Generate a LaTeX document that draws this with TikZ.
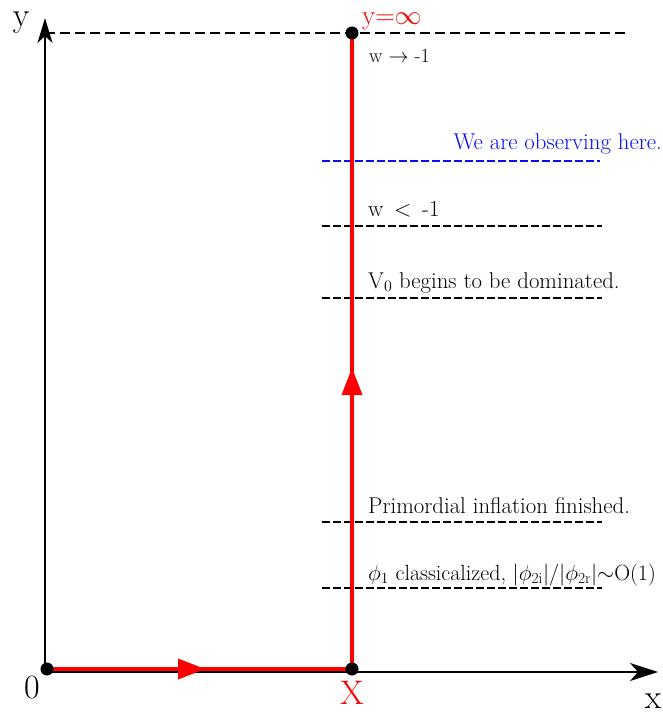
\RequirePackage{fix-cm}
\documentclass[tikz,border=0pt]{standalone}
\usepackage{fontspec}
\usepackage{tikz}
\usetikzlibrary{arrows.meta, decorations.markings}
\definecolor{flowRed}{RGB}{255,0,0}
\definecolor{obsBlue}{RGB}{10,10,245}

\begin{document}
\begin{tikzpicture}[
    x=1pt, y=-1pt,
    axis/.style={line width=1.8pt, draw=black},
    flow/.style={line width=4.5pt, color=flowRed, line join=miter},
    epoch/.style={line width=1.8pt, dash pattern=on 8pt off 3pt},
    topline/.style={line width=2.8pt, dash pattern=on 10pt off 5pt},
    note/.style={anchor=base west, inner sep=0pt, font=\fontsize{22.8}{26}\selectfont},
    big/.style={anchor=base, inner sep=0pt, font=\fontsize{34}{38}\selectfont},
    dot/.style={circle, fill=black, inner sep=0pt, minimum size=13pt}
  ]
  \useasboundingbox (0,0) rectangle (663,714);
  \coordinate (org) at (45,672);
  \coordinate (xend) at (658,672);
  \coordinate (yend) at (45,18);
  \coordinate (o) at (47,669);
  \coordinate (xp) at (352,669);
  \coordinate (yinf) at (352,33);
  \coordinate (topend) at (628,33);

  % levels along the path
  \draw[topline] (org |- yinf) -- (topend);
  \foreach \yy in {226,298,522,588}
    \draw[epoch] (322,\yy) -- (602,\yy);
  \draw[epoch, draw=obsBlue] (322,161) -- (600,161);

  \draw[axis, -{Stealth[length=28pt,width=18pt,inset=8pt]}] (org) -- (xend);
  \draw[axis, -{Stealth[length=25pt,width=15pt,inset=7pt]}] (org) -- (yend);

  \draw[flow, postaction={decorate}, decoration={markings,
      mark=at position 0.168 with {\arrow{Triangle[length=27pt,width=21pt,line width=0pt]}},
      mark=at position 0.644 with {\arrow{Triangle[length=27pt,width=21pt,line width=0pt]}}}]
    (o) -- (xp) -- (yinf);
  \foreach \p in {o,xp,yinf}
    \node[dot] at (\p) {};

  \node[note, font=\fontsize{20}{23}\selectfont] (wlim) at (369,63) {w $\rightarrow$ -1};
  \node[note, anchor=base east, text=obsBlue] (obs) at (662,150) {We are observing here.};
  \node[note] (wph) at (368,216) {w\, $<$\, -1};
  \node[note] (vdom) at (368,288) {V$_0$ begins to be dominated.};
  \node[note] (prim) at (368,513) {Primordial inflation finished.};
  \node[note, font=\fontsize{22}{25}\selectfont] (clas) at (368,580) {$\phi_1$ classicalized, $|\phi_{\mathrm{2i}}|/|\phi_{\mathrm{2r}}|{\sim}$O(1)};

  \node[big] (ylab) at (21,27) {y};
  \node[big] (xlab) at (653,708) {x};
  \node[big] (zero) at (32,698) {0};
  \node[big, text=flowRed] (xpt) at (352,704) {X};
  \node[big, anchor=base west, text=flowRed, font=\fontsize{27}{30}\selectfont] (ylim) at (362,25) {y=$\infty$};
\end{tikzpicture}
\end{document}
